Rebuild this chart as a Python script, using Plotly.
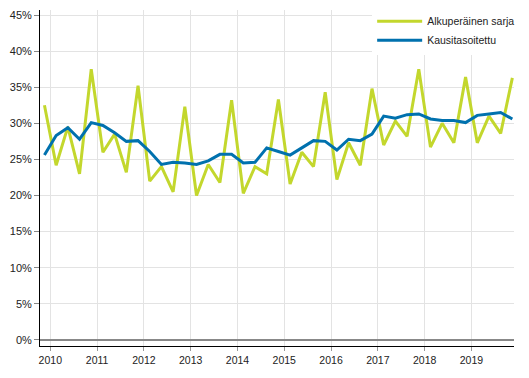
import plotly.graph_objects as go

quarters = (["2009Q4"] +
            [f"{y}Q{q}" for y in range(2010, 2020) for q in range(1, 5)])

original = [32.5, 24.2, 29.5, 23.0, 37.5, 26.0, 28.5, 23.2, 35.2, 22.0,
            24.0, 20.5, 32.3, 20.0, 24.3, 21.8, 33.2, 20.3, 24.0, 23.0,
            33.3, 21.6, 26.0, 24.0, 34.3, 22.2, 27.3, 24.2, 34.8, 27.0,
            30.3, 28.2, 37.5, 26.7, 30.0, 27.3, 36.4, 27.3, 31.0, 28.6,
            36.3]
adjusted = [25.6, 28.3, 29.4, 27.8, 30.1, 29.7, 28.7, 27.5, 27.6, 26.1,
            24.3, 24.6, 24.5, 24.3, 24.8, 25.7, 25.7, 24.5, 24.6, 26.6,
            26.1, 25.6, 26.6, 27.6, 27.5, 26.3, 27.8, 27.6, 28.5, 31.0,
            30.7, 31.2, 31.3, 30.6, 30.4, 30.4, 30.1, 31.1, 31.3, 31.5,
            30.6]

year_ticks = list(range(2010, 2020))
year_labels = [str(y) for y in year_ticks]
y_ticks = list(range(0, 50, 5))
y_labels = [f"{v}%" for v in y_ticks]

x = [int(q[:4]) + (int(q[5]) - 0.5) / 4 for q in quarters]

GREEN = "#c3d72d"
BLUE = "#0071ae"
FONT = "Liberation Sans, Arial, sans-serif"

fig = go.Figure()
fig.add_trace(go.Scatter(x=x, y=original, mode="lines", name="Alkuperäinen sarja",
                         line=dict(color=GREEN, width=3)))
fig.add_trace(go.Scatter(x=x, y=adjusted, mode="lines", name="Kausitasoitettu",
                         line=dict(color=BLUE, width=3)))

fig.update_layout(
    width=529, height=378,
    margin=dict(l=40, r=15, t=10, b=32, autoexpand=False),
    plot_bgcolor="white", paper_bgcolor="white",
    font=dict(family=FONT, size=10.5, color="#222"),
    showlegend=True,
    legend=dict(x=1.013, y=1.01, xanchor="right", yanchor="top",
                bgcolor="white", borderwidth=0,
                font=dict(family=FONT, size=10.5, color="#222"),
                itemwidth=45, tracegroupgap=0),
    xaxis=dict(range=[2009.78, 2019.91], tickvals=year_ticks, ticktext=year_labels,
               showgrid=True, gridcolor="#e3e3e3", gridwidth=1,
               showline=True, linecolor="black", linewidth=1,
               ticks="outside", ticklen=4, tickcolor="#999",
               tickfont=dict(size=10.5), zeroline=False),
    yaxis=dict(range=[-0.85, 45.7], tickvals=y_ticks, ticktext=y_labels,
               showgrid=True, gridcolor="#e3e3e3", gridwidth=1,
               showline=True, linecolor="black", linewidth=1,
               ticks="outside", ticklen=5, tickcolor="#888",
               tickfont=dict(size=11),
               zeroline=True, zerolinecolor="#888", zerolinewidth=2),
)

fig.write_html("out.html",
               config={"displayModeBar": False},
               post_script="document.body.style.margin='0';"
                           "document.body.style.padding='0';")
